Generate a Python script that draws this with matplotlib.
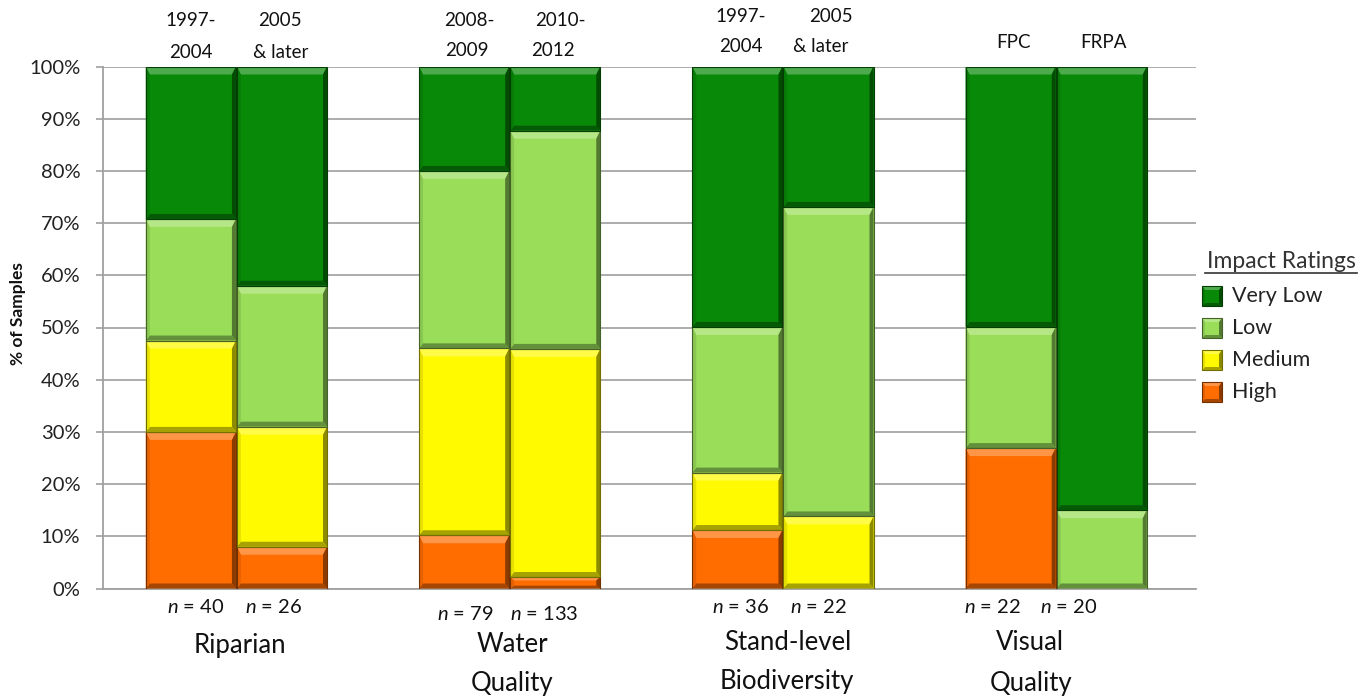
import matplotlib
matplotlib.use("Agg")
import matplotlib.pyplot as plt
from matplotlib.patches import Polygon, Rectangle
from matplotlib.lines import Line2D
from matplotlib.transforms import IdentityTransform
from matplotlib.colors import to_rgb
import numpy as np

plt.rcParams["font.family"] = ["Lato", "DejaVu Sans"]
plt.rcParams["mathtext.fontset"] = "custom"
plt.rcParams["mathtext.it"] = "Lato:italic"
plt.rcParams["mathtext.rm"] = "Lato"

# ---- data -------------------------------------------------------------
groups = ["Riparian", "Water\nQuality", "Stand-level\nBiodiversity", "Visual\nQuality"]
periods = ["1997-\n2004", "2005\n& later", "2008-\n2009", "2010-\n2012",
           "1997-\n2004", "2005\n& later", "FPC", "FRPA"]
sample_sizes = [40, 26, 79, 133, 36, 22, 22, 20]
ratings = ["High", "Medium", "Low", "Very Low"]
high = [30.0, 8.0, 10.2, 2.2, 11.2, 0.0, 26.9, 0.0]
medium = [17.5, 23.0, 35.8, 43.7, 11.0, 13.8, 0.0, 0.0]
low = [23.3, 27.0, 34.0, 41.8, 27.9, 59.3, 23.2, 15.0]
very_low = [29.2, 42.0, 20.0, 12.3, 49.9, 26.9, 49.9, 85.0]
yticks = [0, 10, 20, 30, 40, 50, 60, 70, 80, 90, 100]

colors = {"High": "#FF6C00", "Medium": "#FFFA00", "Low": "#99DD59", "Very Low": "#088A08"}

# ---- figure -----------------------------------------------------------
W, H = 1371, 696
fig = plt.figure(figsize=(W / 100, H / 100), dpi=100)
fig.patch.set_facecolor("white")


def fx(px):
    return px / W


def fy(py):
    return 1 - py / H


ax = fig.add_axes([fx(102.5), fy(588.5), fx(1195.5) - fx(102.5), fy(66.5) - fy(588.5)])
ax.set_xlim(0, 12)
ax.set_ylim(0, 100)
ax.set_yticks(yticks)
ax.set_yticklabels([f"{v}%" for v in yticks], fontsize=14.5, color="#222222")
ax.set_xticks([])
ax.tick_params(axis="y", length=5, width=1.2, color="#A0A0A0", pad=11)
for side in ("top", "right"):
    ax.spines[side].set_visible(False)
for side in ("left", "bottom"):
    ax.spines[side].set_color("#A0A0A0")
    ax.spines[side].set_linewidth(1.3)
ax.yaxis.grid(True, color="#A6A6A6", linewidth=1.3)
ax.set_axisbelow(True)

# bar positions: two adjacent bars per group, three category slots per group
xpos = [3 * g + 0.97 + k for g in range(len(groups)) for k in (0, 1)]
bar_w = 0.99


def mix(c, other, t):
    c = np.array(to_rgb(c))
    o = np.array(to_rgb(other))
    return tuple(c * (1 - t) + o * t)


def bevel(target, x0, y0, x1, y1, color, t=8, s=4, b=5, zorder=3, face=False):
    """Draw a bevelled block in display pixels (y0 bottom, y1 top)."""
    h = y1 - y0
    t = min(t, h * 0.3)
    b = min(b, h * 0.25)
    s = min(s, (x1 - x0) * 0.2)
    tr = IdentityTransform()
    shapes = []
    if face:
        shapes.append(Rectangle((x0, y0), x1 - x0, y1 - y0, facecolor=color,
                                edgecolor="none", transform=tr, zorder=zorder))
    pieces = [
        ([(x0, y1), (x1, y1), (x1 - s, y1 - t), (x0 + s, y1 - t)], mix(color, "white", 0.28)),
        ([(x0, y0), (x1, y0), (x1 - s, y0 + b), (x0 + s, y0 + b)], mix(color, "black", 0.35)),
        ([(x0, y0), (x0, y1), (x0 + s, y1 - t), (x0 + s, y0 + b)], mix(color, "black", 0.1)),
        ([(x1, y0), (x1, y1), (x1 - s, y1 - t), (x1 - s, y0 + b)], mix(color, "black", 0.45)),
    ]
    for pts, col in pieces:
        shapes.append(Polygon(pts, closed=True, facecolor=col, edgecolor="none",
                              transform=tr, zorder=zorder))
    shapes.append(Rectangle((x0, y0), x1 - x0, y1 - y0, facecolor="none",
                            edgecolor=mix(color, "black", 0.55), linewidth=0.8,
                            transform=tr, zorder=zorder + 0.1))
    for shp in shapes:
        if target is fig:
            fig.add_artist(shp)
        else:
            target.add_patch(shp)


series = {"High": high, "Medium": medium, "Low": low, "Very Low": very_low}
bottom = np.zeros(len(xpos))
for name in ratings:
    vals = np.array(series[name])
    bars = ax.bar(xpos, vals, bar_w, bottom=bottom, color=colors[name],
                  edgecolor="none", zorder=2)
    for rect, v in zip(bars, vals):
        if v <= 0:
            continue
        (dx0, dy0), (dx1, dy1) = ax.transData.transform(
            [(rect.get_x(), rect.get_y()),
             (rect.get_x() + rect.get_width(), rect.get_y() + rect.get_height())])
        bevel(ax, dx0, dy0, dx1, dy1, colors[name])
    bottom += vals

fig.text(fx(18), fy(314), "% of Samples", rotation=90, ha="center", va="center",
         fontsize=12.5, fontweight="bold", color="#111111")

# ---- period labels above bars --------------------------------------------
period_xy = [((191, 20), (191, 52)), ((280, 20), (281, 52)),
             ((469, 20), (467, 50)), ((560, 20), (553, 50)),
             ((741, 17), (741, 46)), ((831, 17), (821, 46)),
             ((1013, 43),), ((1104, 43),)]
for label, spots in zip(periods, period_xy):
    for line, (px, py) in zip(label.split("\n"), spots):
        fig.text(fx(px), fy(py), line, ha="center", va="center", fontsize=13.5, color="#111111")

# ---- sample sizes and group names below ----------------------------------
n_xy = [(196, 607), (274, 607), (465, 614), (544, 614),
        (741, 607), (818, 607), (992, 607), (1069, 607)]
for n, (px, py) in zip(sample_sizes, n_xy):
    fig.text(fx(px), fy(py), f"$n$ = {n}", ha="center", va="center", fontsize=14.5, color="#111111")

group_xy = [((240, 645),), ((512, 645), (512, 683)),
            ((788, 643), (787, 681)), ((1030, 643), (1031, 683))]
for name, spots in zip(groups, group_xy):
    for line, (px, py) in zip(name.split("\n"), spots):
        fig.text(fx(px), fy(py), line, ha="center", va="center", fontsize=18.5, color="#111111")

# ---- legend -----------------------------------------------------------
fig.text(fx(1281), fy(262), "Impact Ratings", ha="center", va="center", fontsize=16.5, color="#333333")
fig.add_artist(Line2D([fx(1205), fx(1357)], [fy(273), fy(273)], color="#333333", linewidth=1.2))
for i, name in enumerate(reversed(ratings)):
    cy = 296 + 32 * i
    bevel(fig, 1202, H - (cy + 10), 1222, H - (cy - 10), colors[name], t=4, s=3, b=3, face=True)
    fig.text(fx(1232), fy(cy), name, ha="left", va="center", fontsize=15.5, color="#222222")

fig.savefig("out.png", dpi=100, facecolor="white")
